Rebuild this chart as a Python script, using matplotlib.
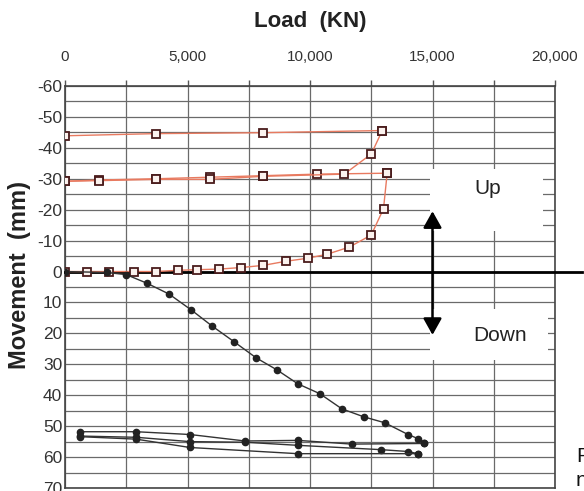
import matplotlib
matplotlib.use('Agg')
import matplotlib.pyplot as plt
from matplotlib.patches import Rectangle

plt.rcParams['font.family'] = ['Liberation Sans', 'DejaVu Sans']

# ---- Upward movement (squares) : load (kN) vs movement (mm) ----
up_load_1 = [0, 900, 1800, 2800, 3700, 4600, 5400, 6300, 7200, 8100, 9000,
             9900, 10700, 11600, 12500, 13000, 13150]
up_mm_1 = [0, 0, 0, 0, 0, -0.4, -0.6, -0.8, -1.3, -2.0, -3.3,
           -4.3, -5.6, -7.9, -11.8, -20.3, -31.8]
up_load_2 = [13150, 10300, 8100, 5900, 3700, 1400, 0]
up_mm_2 = [-31.8, -31.5, -31.0, -30.5, -30.0, -29.6, -29.2]
up_load_3 = [0, 1400, 3700, 5900, 8100, 11400, 12500, 12950]
up_mm_3 = [-29.2, -29.4, -29.8, -29.8, -30.8, -31.5, -38.0, -45.6]
up_load_4 = [12950, 8100, 3700, 0]
up_mm_4 = [-45.6, -44.9, -44.6, -43.9]

# ---- Downward movement (dots) ----
dn_load_1 = [0, 1700, 2500, 3350, 4250, 5150, 6000, 6900, 7800, 8650, 9500,
             10400, 11300, 12200, 13050, 14000, 14400, 14650]
dn_mm_1 = [0, 0.3, 1.0, 3.8, 7.3, 12.4, 17.6, 22.7, 27.9, 31.8, 36.3,
           39.5, 44.4, 47.0, 48.9, 52.7, 54.0, 55.6]
dn_load_2 = [14650, 11700, 9500, 7350, 5100, 2900, 600]
dn_mm_2 = [55.6, 55.8, 54.6, 54.8, 52.7, 51.8, 51.8]
dn_load_3 = [600, 2900, 5100, 7350, 9500, 12900, 14000, 14400]
dn_mm_3 = [53.2, 53.6, 55.0, 55.2, 56.2, 57.6, 58.2, 58.9]
dn_load_4 = [14400, 9500, 5100, 2900, 600]
dn_mm_4 = [58.9, 58.9, 56.9, 54.2, 53.4]

x_ticks = list(range(0, 20001, 2500))
y_ticks = list(range(-60, 71, 10))
y_minor = list(range(-55, 70, 10))

fig = plt.figure(figsize=(5.84, 4.91), dpi=100)
ax = fig.add_axes([65/584, 3/491, 490/584, 402/491])
ax.set_xlim(0, 20000)
ax.set_ylim(70, -60)
ax.set_axisbelow(True)

ax.xaxis.tick_top()
ax.set_xticks(x_ticks)
ax.set_xticklabels([f'{v:,}' if v % 5000 == 0 else '' for v in x_ticks],
                   fontsize=11, color='#333333')
ax.set_yticks(y_ticks)
ax.set_yticklabels([f'{v}' for v in y_ticks], fontsize=12.5, color='#333333')
ax.set_yticks(y_minor, minor=True)
ax.tick_params(axis='x', which='major', length=4, width=1, color='#555555', pad=12)
ax.tick_params(axis='y', which='both', length=0, pad=2)
ax.grid(True, which='major', axis='both', color='#6a6a6a', lw=0.9)
ax.grid(True, which='minor', axis='y', color='#6a6a6a', lw=0.9)
for s in ax.spines.values():
    s.set_color('#444444')
    s.set_linewidth(1.2)

# white label boxes covering grid
ax.add_patch(Rectangle((14900, -33), 4600, 20, facecolor='white',
                       edgecolor='none', zorder=1))
ax.add_patch(Rectangle((14900, 12), 4800, 16.5, facecolor='white',
                       edgecolor='none', zorder=1))

up_style = dict(color='#e87a60', lw=1.0, marker='s', markersize=6.2,
                markerfacecolor='#fbf2ee', markeredgecolor='#4a1c1c',
                markeredgewidth=1.3, zorder=4)
for xs, ys in [(up_load_1, up_mm_1), (up_load_2, up_mm_2),
               (up_load_3, up_mm_3), (up_load_4, up_mm_4)]:
    ax.plot(xs, ys, **up_style)

dn_style = dict(color='#333333', lw=1.0, marker='o', markersize=4.5,
                markerfacecolor='#222222', markeredgecolor='#222222', zorder=4)
for xs, ys in [(dn_load_1, dn_mm_1), (dn_load_2, dn_mm_2),
               (dn_load_3, dn_mm_3), (dn_load_4, dn_mm_4)]:
    ax.plot(xs, ys, **dn_style)

# zero line extending past the frame
ax.axhline(0, xmin=0, xmax=1.056, color='black', lw=2, clip_on=False, zorder=3)

# up / down arrow
ax.annotate('', xy=(15000, -19.5), xytext=(15000, 20.5),
            arrowprops=dict(arrowstyle='<|-|>,head_length=0.5,head_width=0.28',
                            color='black', lw=1.8, mutation_scale=20,
                            shrinkA=0, shrinkB=0), zorder=5)
ax.text(17250, -26.8, 'Up', fontsize=15, color='#222222', ha='center', va='center')
ax.text(17750, 20.6, 'Down', fontsize=15, color='#222222', ha='center', va='center')

fig.text(310/584, 1 - 22/491, 'Load  (KN)', fontsize=16, fontweight='bold',
         ha='center', va='center', color='#222222')
fig.text(20/584, 1 - 275/491, 'Movement  (mm)', fontsize=17, fontweight='bold',
         rotation=90, ha='center', va='center', color='#222222')
fig.text(576/584, 1 - 457/491, 'F', fontsize=15, ha='left', va='center', color='#111111')
fig.text(576/584, 1 - 480/491, 'n', fontsize=15, ha='left', va='center', color='#111111')

fig.savefig('out.png', dpi=100)
